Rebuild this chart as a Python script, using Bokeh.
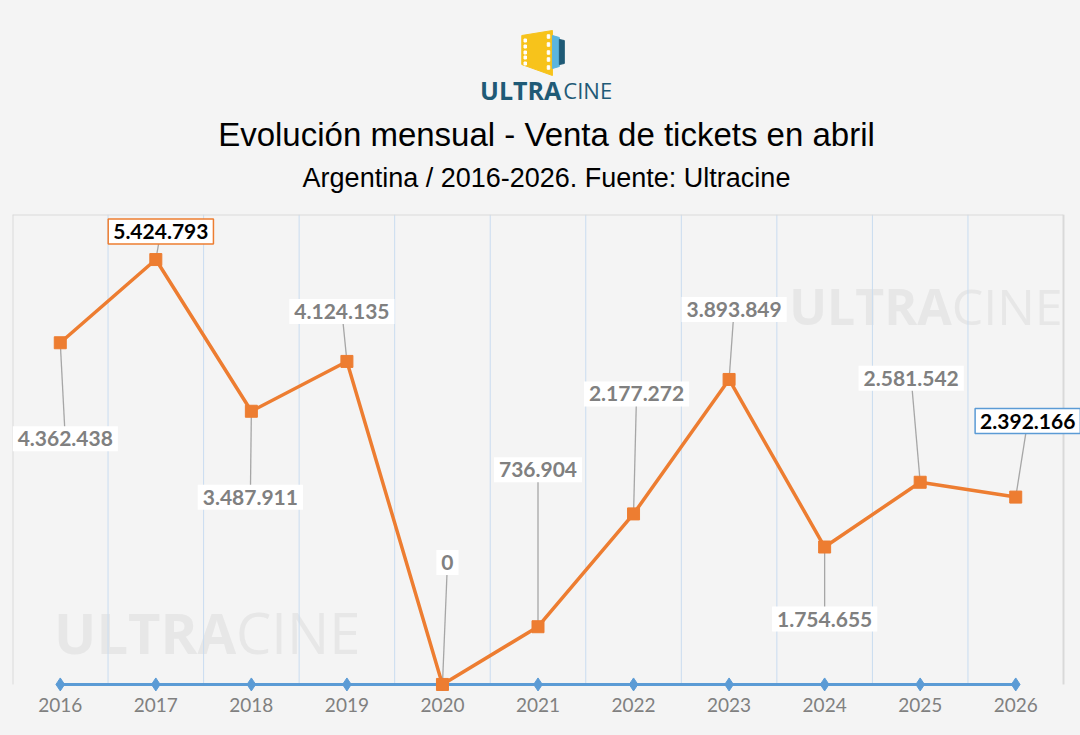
from bokeh.plotting import figure
from bokeh.models import Range1d, FixedTicker, Label
from bokeh.layouts import column
from bokeh.core.properties import value
from bokeh.embed import file_html
from bokeh.resources import INLINE

years = ["2016", "2017", "2018", "2019", "2020", "2021",
         "2022", "2023", "2024", "2025", "2026"]
tickets = [4362438, 5424793, 3487911, 4124135, 0, 736904,
           2177272, 3893849, 1754655, 2581542, 2392166]
base = [0] * len(years)   # second series, flat at zero

title = "Evolución mensual - Venta de tickets en abril"
subtitle = "Argentina / 2016-2026. Fuente: Ultracine"

# where each data label sits, in pixels from its point (style only)
lab_off = [(5, -96), (5, 28), (-1, -86), (-5, 50), (5, 122), (0, 157),
           (3, 120), (5, 70), (0, -72), (-9, 104), (12, 76)]
lab_border = {1: "#ed7d31", 10: "#5b9bd5"}

BG = "#f4f4f4"
ORANGE = "#ed7d31"
BLUE = "#5b9bd5"
W = 1080
YMAX = 6000000

# ---- header: logo + titles
head = figure(width=W, height=208, x_range=Range1d(0, W), y_range=Range1d(208, 0),
              output_backend="svg", toolbar_location=None, min_border=0)
head.axis.visible = False
head.grid.visible = False
head.outline_line_color = None
head.background_fill_color = BG
head.border_fill_color = BG

head.patch([515, 546, 546, 515], [35, 30, 75, 64], color="#f7c31b")
head.patch([546, 553, 553, 546], [35, 37, 66, 68], color="#5bb5de")
head.patch([553, 558, 558, 553], [39, 40, 63, 64], color="#1f5a76")
head.rect(x=[518.5] * 5, y=[40, 46, 52, 57, 63], width=2.5, height=3, color="white")
head.rect(x=[542] * 5, y=[36, 44, 52, 59, 67], width=2.5, height=3.5, color="white")
head.text(x=[555], y=[89], text=["ULTRA"], text_font=value("Open Sans"),
          text_font_style="bold", text_font_size="25px", text_color="#1f5a76",
          text_align="right", text_baseline="middle")
head.text(x=[557], y=[89], text=["CINE"], text_font=value("Open Sans"),
          text_font_size="22px", text_color="#1f5a76",
          text_align="left", text_baseline="middle")
head.text(x=[540], y=[134], text=[title], text_font=value("Liberation Sans"),
          text_font_size="33px", text_color="black",
          text_align="center", text_baseline="middle")
head.text(x=[540], y=[177], text=[subtitle], text_font=value("Liberation Sans"),
          text_font_size="27px", text_color="black",
          text_align="center", text_baseline="middle")

# ---- chart: frame spans x 12..1080, categories fill 12..1063
xpx = 1051 / 11
p = figure(width=W, height=527, x_range=Range1d(-0.5, -0.5 + 1068 / xpx),
           y_range=Range1d(-90000, YMAX),
           output_backend="svg", toolbar_location=None,
           min_border_left=12, min_border_right=0, min_border_top=6, min_border_bottom=44)
ypx = 477 / (YMAX + 90000)
p.background_fill_color = BG
p.border_fill_color = BG
p.outline_line_color = None
p.yaxis.visible = False
p.grid.visible = False
p.xaxis.ticker = FixedTicker(ticks=list(range(len(years))))
p.xaxis.major_label_overrides = {i: y for i, y in enumerate(years)}
p.xaxis.axis_line_color = None
p.xaxis.major_tick_line_color = None
p.xaxis.minor_tick_line_color = None
p.xaxis.major_label_standoff = 0
p.xaxis.major_label_text_font = "Lato"
p.xaxis.major_label_text_font_size = "19px"
p.xaxis.major_label_text_color = "#808080"

n = len(years)
# vertical separators between categories and the plot box
p.segment(x0=[i + 0.5 for i in range(n - 1)], y0=[0] * (n - 1),
          x1=[i + 0.5 for i in range(n - 1)], y1=[YMAX] * (n - 1),
          line_color="#c9dcf0", line_width=1)
p.segment(x0=[-0.5, -0.5, n - 0.5], y0=[0, YMAX, 0],
          x1=[-0.5, n - 0.5, n - 0.5], y1=[YMAX, YMAX, YMAX],
          line_color="#d9d9d9", line_width=2)

# watermarks
for xs, ys, size in [(1.84, 676000, "56px"), (9.33, 4838000, "50px")]:
    r1 = p.text(x=[xs], y=[ys], text=["ULTRA"], text_font=value("Open Sans"),
                text_font_style="bold", text_font_size=size, text_color="#e7e7e7",
                text_align="right", text_baseline="middle")
    r2 = p.text(x=[xs], y=[ys], text=["CINE"], text_font=value("Open Sans"),
                text_font_size=size, text_color="#e7e7e7",
                text_align="left", text_baseline="middle")
    r1.level = "underlay"
    r2.level = "underlay"

idx = list(range(n))
p.segment(x0=idx, y0=tickets,
          x1=[i + dx / xpx for i, (dx, dy) in zip(idx, lab_off)],
          y1=[v + dy / ypx for v, (dx, dy) in zip(tickets, lab_off)],
          line_color="#a6a6a6", line_width=1.3)

p.line(idx, base, color=BLUE, line_width=3)
p.scatter(idx, base, marker="diamond", size=13, color=BLUE)
p.line(idx, tickets, color=ORANGE, line_width=3.5)
p.scatter(idx, tickets, marker="square", size=12, color=ORANGE)

for i, v in enumerate(tickets):
    dx, dy = lab_off[i]
    hl = i in lab_border
    p.add_layout(Label(x=i, y=v, x_offset=dx, y_offset=dy,
                       text=f"{v:,}".replace(",", "."),
                       text_align="center", text_baseline="middle",
                       text_font="Lato", text_font_style="bold", text_font_size="21px",
                       text_color="black" if hl else "#808080",
                       background_fill_color="white",
                       border_line_color=lab_border.get(i),
                       border_line_width=1.5, padding=5))

page = column(head, p, spacing=0, styles={"background-color": BG})
open("out.html", "w").write(file_html(page, INLINE))
